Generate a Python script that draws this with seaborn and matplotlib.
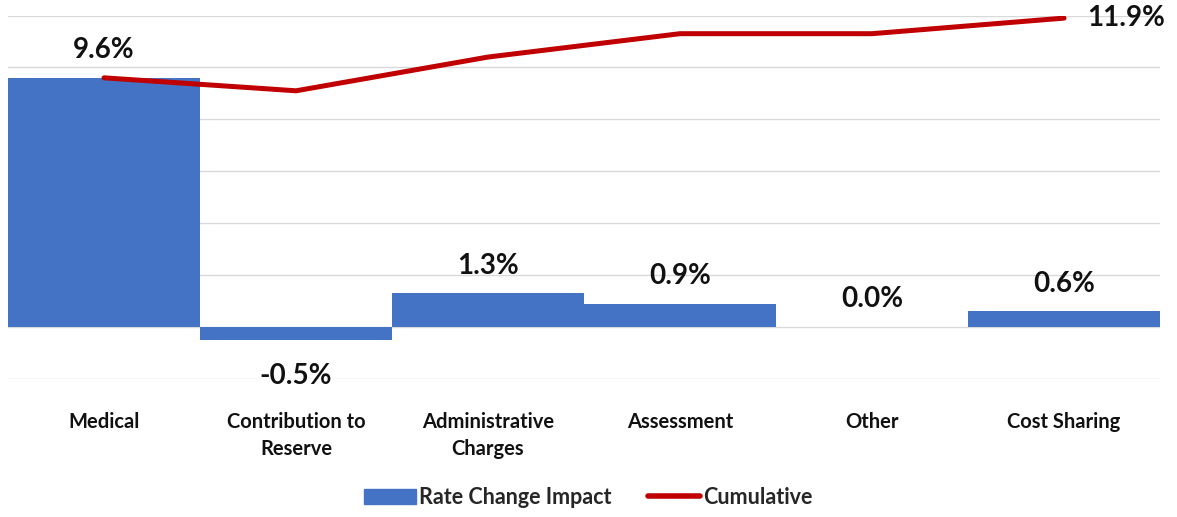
import numpy as np
import seaborn as sns
import matplotlib.pyplot as plt
from matplotlib.patches import Patch
from matplotlib.lines import Line2D

# data
categories = ['Medical', 'Contribution to\nReserve', 'Administrative\nCharges',
              'Assessment', 'Other', 'Cost Sharing']
impact = [9.6, -0.5, 1.3, 0.9, 0.0, 0.6]
cumulative = [9.6, 9.1, 10.4, 11.3, 11.3, 11.9]
bar_labels = ['9.6%', '-0.5%', '1.3%', '0.9%', '0.0%', '0.6%']

sns.set_style('white')
plt.rcParams['font.family'] = ['Lato', 'DejaVu Sans']

fig = plt.figure(figsize=(11.77, 5.17), dpi=100)
ax = fig.add_axes([0.0068, 0.267, 0.9788, 0.703])

# bars
sns.barplot(x=categories, y=impact, color='#4472C4', saturation=1, width=1.0,
            linewidth=0, ax=ax, zorder=2)
for i, (v, lab) in enumerate(zip(impact, bar_labels)):
    off = 20 if v >= 0 else -26
    ax.annotate(lab, (i, v), xytext=(0, off), textcoords='offset points',
                ha='center', va='center', fontsize=20, fontweight='bold', color='#111111')

# cumulative line
pos = np.arange(len(categories))
sns.lineplot(x=pos, y=cumulative, color='#C00000', linewidth=3.6, ax=ax, zorder=3)
ax.annotate('11.9%', (pos[-1], cumulative[-1]), xytext=(17, 0), textcoords='offset points',
            ha='left', va='center', fontsize=20, fontweight='bold', color='#111111')

# axes
ax.set_xlim(-0.5, len(categories) - 0.5)
ax.set_ylim(-2, 12)
ax.set_yticks(np.arange(-2, 13, 2))
ax.yaxis.grid(True, color='#D9D9D9', linewidth=1)
ax.set_axisbelow(True)
ax.tick_params(axis='y', left=False, labelleft=False)
ax.tick_params(axis='x', bottom=False, pad=20)
for lab in ax.get_xticklabels():
    lab.set_fontsize(14.5)
    lab.set_fontweight('bold')
    lab.set_color('#111111')
    lab.set_linespacing(1.45)
sns.despine(ax=ax, left=True, bottom=True)

# legend
handles = [Patch(color='#4472C4', label='Rate Change Impact'),
           Line2D([0], [0], color='#C00000', linewidth=4, label='Cumulative')]
fig.legend(handles=handles, loc='center', bbox_to_anchor=(0.5, 0.038), ncol=2,
           frameon=False, handlelength=2.4, handletextpad=0.15,
           columnspacing=1.7, prop={'weight': 'bold', 'size': 15.5})

fig.savefig('out.png', dpi=100)
